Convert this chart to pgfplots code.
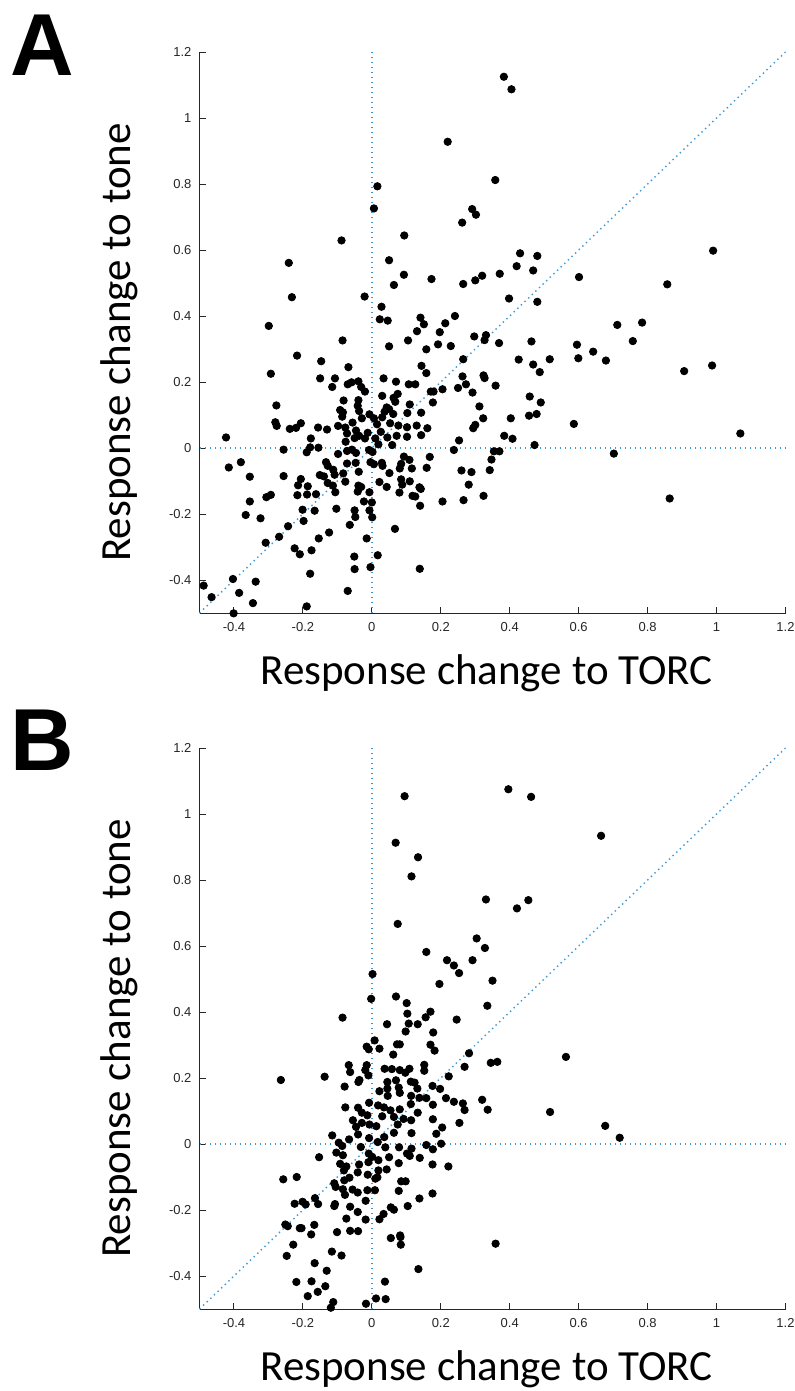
\documentclass[border=0pt]{standalone}
\usepackage{pgfplots}
\pgfplotsset{compat=1.18}
\usepackage{fontspec}
\setmainfont{Liberation Sans}
\newfontfamily\labelfont{Carlito}
\newfontfamily\tickfont{Liberation Sans}
\definecolor{axgray}{HTML}{262626}
\definecolor{refblue}{HTML}{3A9AD9}

% panel A data: x = response change to TORC, y = response change to tone
\pgfplotstableread{
x y
0.383 1.125
0.405 1.087
0.220 0.928
0.016 0.793
0.358 0.812
0.006 0.726
0.291 0.724
0.302 0.707
0.262 0.683
-0.088 0.629
0.094 0.644
-0.241 0.561
0.050 0.569
0.430 0.590
0.480 0.582
0.990 0.598
-0.232 0.457
-0.021 0.459
0.093 0.525
0.064 0.494
0.173 0.512
0.265 0.497
0.300 0.508
0.320 0.522
0.371 0.528
0.420 0.551
0.468 0.538
0.601 0.518
0.857 0.496
0.398 0.453
0.480 0.443
0.028 0.428
0.023 0.390
0.046 0.386
0.141 0.395
0.151 0.375
0.213 0.378
0.241 0.400
-0.299 0.370
0.131 0.354
0.197 0.351
0.297 0.338
0.331 0.342
0.327 0.327
0.712 0.373
0.784 0.380
-0.085 0.326
0.105 0.326
0.192 0.314
0.229 0.309
0.369 0.318
0.463 0.323
0.595 0.313
0.757 0.324
0.050 0.308
0.158 0.299
-0.217 0.280
-0.147 0.263
-0.068 0.245
-0.293 0.225
0.144 0.249
0.158 0.227
0.265 0.269
0.426 0.268
0.468 0.253
0.516 0.269
0.599 0.272
0.642 0.292
0.679 0.265
0.487 0.230
0.906 0.233
0.987 0.250
-0.150 0.211
-0.107 0.211
-0.115 0.185
-0.070 0.193
-0.059 0.199
-0.039 0.202
-0.031 0.185
-0.020 0.171
0.034 0.211
0.107 0.193
0.126 0.193
0.070 0.201
0.263 0.217
0.273 0.193
0.324 0.220
0.327 0.212
0.359 0.189
0.250 0.182
0.292 0.168
0.205 0.178
0.171 0.171
0.179 0.171
0.075 0.164
0.030 0.158
0.063 0.152
-0.082 0.144
-0.039 0.145
0.458 0.156
0.490 0.138
0.177 0.138
0.068 0.140
0.110 0.132
-0.277 0.129
0.312 0.126
-0.041 0.128
0.043 0.123
0.050 0.118
-0.092 0.115
-0.084 0.108
-0.037 0.112
0.037 0.110
0.062 0.103
0.103 0.106
0.143 0.107
-0.086 0.095
-0.007 0.102
-0.029 0.090
0.006 0.090
0.030 0.093
0.323 0.090
0.403 0.090
0.456 0.098
0.478 0.103
-0.280 0.078
-0.276 0.067
-0.206 0.075
-0.238 0.058
-0.220 0.061
-0.156 0.062
-0.130 0.056
-0.098 0.067
-0.077 0.062
-0.056 0.077
0.015 0.072
0.053 0.075
0.077 0.068
0.102 0.063
0.130 0.068
0.161 0.060
0.294 0.060
0.300 0.070
0.586 0.073
1.069 0.044
-0.423 0.032
-0.177 0.029
-0.046 0.053
-0.012 0.046
-0.072 0.044
-0.037 0.037
-0.050 0.030
-0.020 0.029
0.010 0.029
0.026 0.049
0.045 0.032
0.072 0.037
0.102 0.034
0.143 0.039
0.253 0.023
0.384 0.037
0.408 0.028
0.472 0.009
-0.076 0.019
0.019 0.011
0.059 0.009
-0.179 0.002
-0.155 0.001
-0.189 -0.013
-0.256 -0.005
-0.098 -0.018
-0.072 -0.009
-0.058 -0.005
-0.046 -0.015
-0.008 -0.006
0.002 -0.012
0.238 -0.006
0.354 -0.010
0.370 -0.010
0.702 -0.017
0.093 -0.026
0.168 -0.027
0.347 -0.035
-0.380 -0.043
-0.415 -0.059
-0.133 -0.043
-0.128 -0.054
-0.072 -0.047
-0.047 -0.045
-0.004 -0.043
0.006 -0.049
0.029 -0.045
0.031 -0.054
0.085 -0.048
0.081 -0.062
0.109 -0.036
0.116 -0.062
0.159 -0.060
0.342 -0.067
0.260 -0.068
0.289 -0.073
-0.112 -0.066
-0.108 -0.081
-0.151 -0.082
-0.139 -0.086
-0.354 -0.087
-0.256 -0.085
-0.083 -0.077
-0.038 -0.072
0.051 -0.076
-0.206 -0.094
0.085 -0.095
-0.077 -0.102
0.022 -0.103
0.110 -0.101
0.088 -0.111
-0.128 -0.106
-0.113 -0.114
-0.214 -0.113
-0.039 -0.114
-0.031 -0.118
0.043 -0.118
0.138 -0.119
0.142 -0.124
0.281 -0.111
-0.186 -0.116
-0.041 -0.132
-0.106 -0.134
0.080 -0.135
-0.007 -0.134
-0.293 -0.142
-0.306 -0.149
-0.216 -0.143
-0.188 -0.141
-0.162 -0.140
0.118 -0.145
0.126 -0.147
0.324 -0.145
-0.354 -0.162
-0.023 -0.162
0.000 -0.165
0.140 -0.175
0.205 -0.162
0.266 -0.158
-0.103 -0.184
-0.201 -0.187
-0.166 -0.190
-0.050 -0.189
-0.007 -0.189
-0.366 -0.203
-0.323 -0.213
-0.198 -0.221
-0.048 -0.209
0.001 -0.210
-0.243 -0.237
-0.064 -0.233
0.067 -0.245
-0.269 -0.269
-0.124 -0.256
-0.154 -0.274
-0.015 -0.274
-0.308 -0.287
-0.224 -0.304
-0.209 -0.322
-0.175 -0.310
-0.051 -0.329
0.017 -0.325
-0.050 -0.367
-0.004 -0.361
0.139 -0.366
-0.179 -0.381
-0.403 -0.397
-0.337 -0.405
-0.488 -0.417
-0.385 -0.439
-0.070 -0.433
-0.465 -0.452
-0.345 -0.470
-0.189 -0.480
-0.401 -0.501
0.864 -0.153
}\dataA

% panel B data
\pgfplotstableread{
x y
0.396 1.075
0.095 1.054
0.462 1.052
0.665 0.934
0.069 0.913
0.134 0.869
0.115 0.811
0.331 0.741
0.454 0.739
0.421 0.714
0.075 0.667
0.304 0.623
0.328 0.594
0.158 0.582
0.218 0.557
0.292 0.557
0.238 0.541
0.253 0.518
0.002 0.515
0.350 0.495
0.196 0.485
-0.002 0.440
0.070 0.447
0.101 0.427
0.335 0.419
0.103 0.395
0.170 0.401
0.156 0.384
0.246 0.377
-0.085 0.383
0.044 0.363
0.107 0.365
0.133 0.363
0.098 0.341
0.178 0.338
0.008 0.314
0.073 0.302
0.081 0.302
0.170 0.301
-0.015 0.295
-0.009 0.287
0.022 0.289
0.182 0.283
0.062 0.271
0.282 0.275
0.563 0.264
-0.067 0.239
-0.015 0.239
0.152 0.240
0.269 0.234
0.345 0.246
0.364 0.249
-0.063 0.218
-0.019 0.224
0.037 0.228
0.058 0.227
0.081 0.224
0.109 0.228
0.152 0.222
-0.010 0.208
0.097 0.216
-0.264 0.194
-0.137 0.204
-0.039 0.188
-0.036 0.194
0.045 0.188
0.070 0.193
0.113 0.189
0.124 0.186
0.223 0.205
-0.079 0.174
0.045 0.168
0.078 0.171
0.132 0.168
0.176 0.176
0.198 0.167
0.022 0.160
0.081 0.155
0.114 0.146
0.138 0.140
0.046 0.146
0.158 0.139
0.215 0.139
0.238 0.128
0.264 0.123
0.320 0.134
-0.008 0.125
0.018 0.117
-0.077 0.111
-0.040 0.110
0.035 0.111
0.054 0.102
0.081 0.105
0.113 0.121
0.177 0.119
0.269 0.103
0.336 0.104
0.517 0.097
-0.029 0.095
-0.013 0.087
0.030 0.084
0.064 0.082
0.133 0.095
-0.055 0.072
-0.029 0.064
-0.007 0.059
0.013 0.054
0.075 0.059
0.092 0.076
0.114 0.072
0.177 0.075
0.254 0.064
0.677 0.055
-0.046 0.052
0.204 0.050
0.719 0.019
-0.115 0.026
-0.066 0.014
-0.040 0.029
-0.008 0.018
0.036 0.021
0.064 0.034
0.115 0.033
0.187 0.031
-0.096 0.004
-0.086 -0.006
-0.032 -0.009
0.017 0.006
0.039 -0.010
0.079 -0.010
0.115 -0.014
0.158 -0.003
0.201 0.001
0.177 -0.016
-0.103 -0.026
-0.084 -0.034
-0.153 -0.040
-0.009 -0.029
0.001 -0.039
0.050 -0.040
0.102 -0.029
0.110 -0.036
0.139 -0.042
-0.092 -0.060
-0.074 -0.068
-0.037 -0.062
-0.010 -0.055
0.019 -0.049
0.078 -0.058
0.176 -0.062
0.222 -0.068
-0.081 -0.080
-0.041 -0.086
-0.012 -0.093
0.019 -0.080
0.043 -0.077
0.016 -0.101
-0.257 -0.107
-0.218 -0.100
-0.080 -0.110
-0.065 -0.102
0.010 -0.105
0.085 -0.113
0.098 -0.113
-0.109 -0.119
-0.105 -0.130
-0.084 -0.137
-0.056 -0.138
-0.041 -0.147
-0.013 -0.140
0.009 -0.140
0.078 -0.142
0.176 -0.150
-0.078 -0.154
-0.165 -0.164
0.138 -0.165
-0.224 -0.181
-0.201 -0.175
-0.192 -0.183
-0.156 -0.182
-0.107 -0.182
-0.109 -0.188
-0.018 -0.172
-0.063 -0.190
0.055 -0.192
0.064 -0.199
0.104 -0.188
-0.041 -0.206
0.034 -0.212
0.022 -0.228
-0.074 -0.226
-0.018 -0.229
-0.251 -0.244
-0.244 -0.249
-0.209 -0.255
-0.204 -0.255
-0.167 -0.245
-0.176 -0.274
-0.101 -0.267
-0.063 -0.263
-0.040 -0.264
0.055 -0.285
0.082 -0.277
0.083 -0.282
0.084 -0.305
0.359 -0.302
-0.228 -0.305
-0.247 -0.339
-0.116 -0.326
-0.088 -0.338
-0.166 -0.361
-0.131 -0.384
0.135 -0.379
-0.219 -0.418
-0.175 -0.416
0.038 -0.417
-0.135 -0.431
-0.157 -0.448
-0.186 -0.461
0.012 -0.468
0.040 -0.470
-0.112 -0.479
-0.017 -0.484
-0.119 -0.496
}\dataB

\pgfplotsset{
  panel/.style={
    scale only axis, width=293pt, height=280.5pt,
    xmin=-0.5, xmax=1.2, ymin=-0.5, ymax=1.2,
    axis x line*=bottom, axis y line*=left,
    axis line style={axgray, line width=0.5pt, -},
    tick align=inside, major tick length=3pt,
    tick style={axgray, line width=0.5pt},
    xtick={-0.4,-0.2,0,0.2,0.4,0.6,0.8,1,1.2},
    ytick={-0.4,-0.2,0,0.2,0.4,0.6,0.8,1,1.2},
    xticklabels={-0.4,-0.2,0,0.2,0.4,0.6,0.8,1,1.2},
    yticklabels={-0.4,-0.2,0,0.2,0.4,0.6,0.8,1,1.2},
    ticklabel style={font=\tickfont\fontsize{6.5}{7}\selectfont, text=axgray},
    xticklabel style={yshift=-1pt},
    yticklabel style={xshift=-0.5pt},
    clip=false,
    xlabel={Response change to TORC},
    ylabel={Response change to tone},
    xlabel style={font=\labelfont\fontsize{21.5}{24}\selectfont,
      at={(axis description cs:0.5,0)}, anchor=base, yshift=-35.5pt, xshift=-3pt},
    ylabel style={font=\labelfont\fontsize{21.5}{24}\selectfont,
      at={(axis description cs:0,0.5)}, anchor=base, yshift=34.75pt, xshift=-5pt},
  },
  refline/.style={refblue, line width=0.7pt, dash pattern=on 0.7pt off 1.8pt},
  dots/.style={only marks, mark=*, mark size=1.85pt,
    mark options={draw=black, fill=black}},
}

\begin{document}
\begin{tikzpicture}
\useasboundingbox (0,0) rectangle (397pt,-695.5pt);

\begin{axis}[panel, at={(99.75pt,-306.5pt)}, anchor=south west]
  \addplot[refline] coordinates {(0,-0.5) (0,1.2)};
  \addplot[refline] coordinates {(-0.5,0) (1.2,0)};
  \addplot[refline] coordinates {(-0.5,-0.5) (1.2,1.2)};
  \addplot[dots] table[x=x, y=y] {\dataA};
\end{axis}

\begin{axis}[panel, at={(99.75pt,-654.5pt)}, anchor=south west]
  \addplot[refline] coordinates {(0,-0.5) (0,1.2)};
  \addplot[refline] coordinates {(-0.5,0) (1.2,0)};
  \addplot[refline] coordinates {(-0.5,-0.5) (1.2,1.2)};
  \addplot[dots] table[x=x, y=y] {\dataB};
\end{axis}

\node[anchor=base west, inner sep=0pt, font=\bfseries\fontsize{44}{45}\selectfont] at (5pt,-38pt) {A};
\node[anchor=base west, inner sep=0pt, font=\bfseries\fontsize{44}{45}\selectfont] at (5pt,-385pt) {B};
\end{tikzpicture}
\end{document}
